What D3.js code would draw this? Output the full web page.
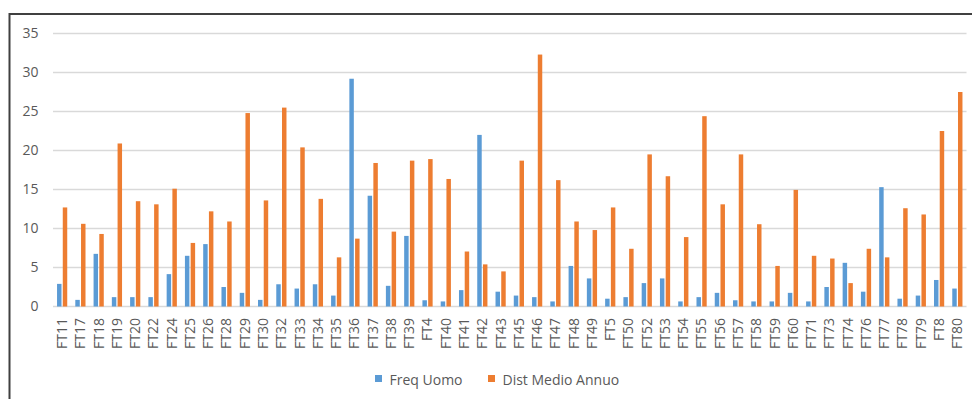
<!DOCTYPE html>
<html>
<head>
<meta charset="utf-8">
<script src="https://cdn.jsdelivr.net/npm/d3@7"></script>
<style>
  html, body { margin: 0; padding: 0; background: #fff; }
  svg { display: block; }
  text { font-family: "Open Sans", "Noto Sans", sans-serif; fill: #595959; }
</style>
</head>
<body>
<svg id="chart" width="972" height="399"></svg>
<script>
// Station codes along the x axis
const categories = ["FT11","FT17","FT18","FT19","FT20","FT22","FT24","FT25","FT26","FT28",
  "FT29","FT30","FT32","FT33","FT34","FT35","FT36","FT37","FT38","FT39",
  "FT4","FT40","FT41","FT42","FT43","FT45","FT46","FT47","FT48","FT49",
  "FT5","FT50","FT52","FT53","FT54","FT55","FT56","FT57","FT58","FT59",
  "FT60","FT71","FT73","FT74","FT76","FT77","FT78","FT79","FT8","FT80"];

// Freq Uomo
const freqUomo = [2.9,0.85,6.75,1.2,1.2,1.2,4.15,6.5,8.0,2.5,
  1.75,0.85,2.85,2.3,2.85,1.4,29.2,14.2,2.65,9.05,
  0.8,0.65,2.1,22.0,1.9,1.4,1.2,0.65,5.2,3.6,
  1.0,1.2,3.0,3.6,0.65,1.2,1.75,0.8,0.65,0.65,
  1.75,0.65,2.5,5.6,1.9,15.3,1.0,1.4,3.4,2.3];

// Dist Medio Annuo
const distMedioAnnuo = [12.7,10.6,9.3,20.9,13.5,13.1,15.1,8.15,12.2,10.9,
  24.8,13.6,25.5,20.4,13.8,6.3,8.7,18.4,9.6,18.7,
  18.9,16.35,7.05,5.4,4.5,18.7,32.3,16.2,10.9,9.8,
  12.7,7.4,19.5,16.7,8.9,24.4,13.1,19.5,10.55,5.2,
  14.95,6.5,6.15,3.0,7.4,6.3,12.6,11.8,22.5,27.5];

const yTicks = [0,5,10,15,20,25,30,35];

const seriesNames = ["Freq Uomo", "Dist Medio Annuo"];
const seriesColors = ["#5B9BD5", "#ED7D31"];
const seriesValues = [freqUomo, distMedioAnnuo];

const svg = d3.select("#chart");

// outer frame (top and left edges)
svg.append("path")
  .attr("d", "M9.5,399 V14 H972")
  .attr("fill", "none")
  .attr("stroke", "#404040")
  .attr("stroke-width", 2);

const x = d3.scaleBand().domain(categories).range([53, 966.5]);
const y = d3.scaleLinear().domain([0, 35]).range([306.5, 33.5]);
const sub = d3.scaleBand().domain(d3.range(seriesNames.length))
  .range([-5.1, 5.1]).paddingInner(0.22);

// gridlines
svg.append("g").selectAll("line").data(yTicks).join("line")
  .attr("x1", 53).attr("x2", 966.5)
  .attr("y1", d => y(d)).attr("y2", d => y(d))
  .attr("stroke", "#d9d9d9").attr("stroke-width", 1.3);

// y axis labels
const yAxis = d3.axisLeft(y).tickValues(yTicks).tickSize(0).tickPadding(0);
svg.append("g").attr("transform", "translate(38.5,0)").call(yAxis)
  .call(g => g.select(".domain").remove())
  .call(g => g.selectAll("text")
    .attr("font-size", 14)
    .attr("fill", "#595959")
    .attr("font-family", "Open Sans, sans-serif"));

// bars
const groups = svg.append("g").selectAll("g").data(seriesValues).join("g")
  .attr("fill", (d, i) => seriesColors[i]);
groups.each(function(vals, si) {
  d3.select(this).selectAll("rect").data(vals).join("rect")
    .attr("x", (v, i) => x(categories[i]) + x.bandwidth() / 2 + sub(si))
    .attr("width", sub.bandwidth())
    .attr("y", v => y(v))
    .attr("height", v => y(0) - y(v));
});

// x axis labels, rotated
const xAxis = d3.axisBottom(x).tickSize(0).tickPadding(0);
svg.append("g").attr("transform", "translate(0,318)").call(xAxis)
  .call(g => g.select(".domain").remove())
  .call(g => g.selectAll("text")
    .attr("font-size", 14)
    .attr("fill", "#595959")
    .attr("font-family", "Open Sans, sans-serif")
    .attr("transform", "rotate(-90)")
    .attr("text-anchor", "end")
    .attr("dy", "0.35em")
    .attr("x", 0).attr("y", 0));

// legend
const legendItems = [{ sq: 375, tx: 389.5 }, { sq: 488, tx: 502.5 }];
const legend = svg.append("g");
seriesNames.forEach((name, i) => {
  legend.append("rect")
    .attr("x", legendItems[i].sq).attr("y", 375)
    .attr("width", 7).attr("height", 7)
    .attr("fill", seriesColors[i]);
  legend.append("text")
    .attr("x", legendItems[i].tx).attr("y", 384.5)
    .attr("font-size", 14)
    .text(name);
});
</script>
</body>
</html>
